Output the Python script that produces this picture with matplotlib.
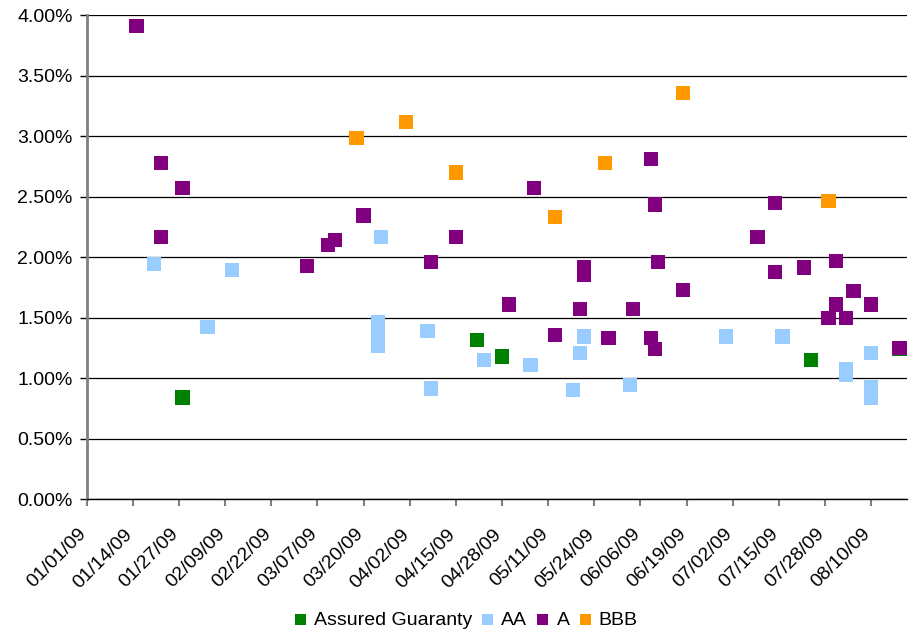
import numpy as np
import pandas as pd
import matplotlib
matplotlib.use("Agg")
import matplotlib.pyplot as plt
import matplotlib.dates as mdates
import matplotlib.transforms as mtransforms
from matplotlib.ticker import FuncFormatter

plt.rcParams['font.family'] = ['Liberation Sans', 'DejaVu Sans']

# Assured Guaranty
ag_dates = ["2009-01-28", "2009-04-21", "2009-04-28", "2009-07-24", "2009-08-18"]
ag_vals = [0.84, 1.315, 1.18, 1.15, 1.24]

# AA
aa_dates = ["2009-01-20", "2009-02-11", "2009-02-04", "2009-03-25",
            "2009-03-24", "2009-03-24", "2009-03-24", "2009-03-24",
            "2009-04-07", "2009-04-08", "2009-04-23", "2009-05-06",
            "2009-05-21", "2009-05-20", "2009-05-18", "2009-06-03",
            "2009-06-30", "2009-07-16", "2009-08-03", "2009-08-03",
            "2009-08-10", "2009-08-10", "2009-08-10", "2009-08-10"]
aa_vals = [1.945, 1.895, 1.42, 2.17,
           1.465, 1.40, 1.33, 1.27,
           1.39, 0.915, 1.15, 1.11,
           1.345, 1.21, 0.90, 0.945,
           1.345, 1.345, 1.075, 1.03,
           1.21, 0.93, 0.885, 0.84]

# A
a_dates = ["2009-01-15", "2009-01-22", "2009-01-28", "2009-01-22",
           "2009-03-04", "2009-03-10", "2009-03-12", "2009-03-20",
           "2009-04-08", "2009-04-15", "2009-05-07", "2009-04-30",
           "2009-05-13", "2009-05-21", "2009-05-21", "2009-05-20",
           "2009-05-28", "2009-06-09", "2009-06-10", "2009-06-11",
           "2009-06-04", "2009-06-09", "2009-06-10", "2009-06-18",
           "2009-07-09", "2009-07-14", "2009-07-14", "2009-07-22",
           "2009-07-31", "2009-07-31", "2009-07-29", "2009-08-03",
           "2009-08-05", "2009-08-10", "2009-08-18"]
a_vals = [3.91, 2.78, 2.57, 2.17,
          1.925, 2.10, 2.14, 2.345,
          1.96, 2.17, 2.57, 1.61,
          1.36, 1.915, 1.855, 1.57,
          1.33, 2.81, 2.435, 1.96,
          1.57, 1.33, 1.24, 1.73,
          2.17, 2.45, 1.88, 1.915,
          1.97, 1.61, 1.50, 1.50,
          1.72, 1.61, 1.25]

# BBB
bbb_dates = ["2009-03-18", "2009-04-01", "2009-04-15", "2009-05-13",
             "2009-05-27", "2009-06-18", "2009-07-29"]
bbb_vals = [2.985, 3.12, 2.70, 2.33, 2.78, 3.36, 2.465]

series = [
    ("Assured Guaranty", ag_dates, ag_vals, "#008000"),
    ("AA", aa_dates, aa_vals, "#99CCFF"),
    ("A", a_dates, a_vals, "#800080"),
    ("BBB", bbb_dates, bbb_vals, "#FF9900"),
]

fig = plt.figure(figsize=(9.14, 6.31), dpi=100)
ax = fig.add_axes([0.0949, 0.209, 0.8971, 0.7667])

for name, d, v, c in series:
    ax.scatter(pd.to_datetime(d), v, marker='s', s=105, color=c,
               edgecolors='none', label=name, zorder=3)

ax.set_ylim(0, 4)
ax.set_yticks(np.arange(0, 4.01, 0.5))
ax.yaxis.set_major_formatter(FuncFormatter(lambda y, p: "%.2f%%" % y))
ax.grid(axis='y', color='black', linewidth=0.9, zorder=0)

start = pd.Timestamp("2009-01-01")
ax.set_xlim(start, pd.Timestamp("2009-08-20"))
xt = pd.date_range(start, periods=18, freq="13D")
ax.set_xticks(xt)
ax.xaxis.set_major_formatter(mdates.DateFormatter("%m/%d/%y"))

for s in ['top', 'right']:
    ax.spines[s].set_visible(False)
ax.spines['left'].set_color('#808080')
ax.spines['left'].set_linewidth(2)
ax.spines['bottom'].set_color('black')
ax.spines['bottom'].set_linewidth(1)
ax.tick_params(axis='x', colors='#808080', length=5, width=1.5, labelcolor='black',
               labelsize=14, pad=4)
ax.tick_params(axis='y', colors='black', length=5, width=1, labelsize=14, pad=5)

shift = mtransforms.ScaledTranslation(-9 / 100, -14 / 100, fig.dpi_scale_trans)
for lab in ax.get_xticklabels():
    lab.set_rotation(45)
    lab.set_ha('right')
    lab.set_rotation_mode('anchor')
    lab.set_transform(lab.get_transform() + shift)

fig.legend(*ax.get_legend_handles_labels(), loc='center',
           bbox_to_anchor=(0.51, 0.0174), ncol=4, frameon=False,
           fontsize=14, handlelength=0.6, handletextpad=0.4, columnspacing=0.5,
           markerscale=0.77, scatterpoints=1, borderpad=0)

fig.savefig("out.png", dpi=100)
